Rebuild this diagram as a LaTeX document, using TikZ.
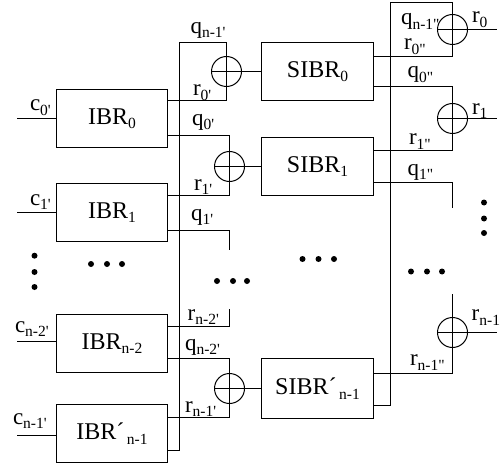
\documentclass[tikz,border=0pt]{standalone}
\usepackage{fontspec}
\setmainfont{Liberation Serif}
\newcommand{\lowt}[1]{\raisebox{-4.5pt}{\fontsize{15.5}{16}\selectfont #1}}
\newcommand{\pri}{\textquotesingle}
\newcommand{\dpri}{\textquotedbl}
\newcommand{\labl}[5]{\node[lab] (#1) at (#2,#3) {#4\lowt{#5}};}
\newcommand{\dotc}[2]{\fill (#1,#2) circle (3);}
\tikzset{
    lab/.style={anchor=base west, inner sep=0pt, outer sep=0pt, font=\fontsize{23}{24}\selectfont},
    ibrbox/.style={draw, line width=1.3pt, minimum width=111pt, minimum height=58pt, inner sep=0pt, outer sep=0pt, font=\fontsize{24}{25}\selectfont},
    sibrbox/.style={ibrbox, minimum width=112pt},
    xorc/.style={draw, circle, line width=1pt, minimum size=30pt, inner sep=0pt, outer sep=0pt}
}
\begin{document}
\begin{tikzpicture}[x=1pt, y=-1pt, line width=1.3pt]
            \useasboundingbox (0,0) rectangle (503,468);
            % first stage
            \node[ibrbox] (ibr0) at (112,118.5) {IBR\lowt{0}};
            \node[ibrbox] (ibr1) at (112,212.5) {IBR\lowt{1}};
            \node[ibrbox] (ibrm) at (112,343.5) {IBR\lowt{n-2}};
            \node[ibrbox] (ibrl) at (112,433.5) {IBR´\lowt{\,n-1}};
            % second stage
            \node[sibrbox] (sibr0) at (317.5,71.5) {SIBR\lowt{0}};
            \node[sibrbox] (sibr1) at (317.5,166.5) {SIBR\lowt{1}};
            \node[sibrbox, minimum height=60pt] (sibrl) at (317.5,388.5) {SIBR´\lowt{\,n-1}};
            % adders
            \node[xorc] (xa0) at (226.5,71.5) {};
            \node[xorc] (xa1) at (229.5,166.5) {};
            \node[xorc] (xal) at (229.5,388.5) {};
            \node[xorc] (xb0) at (452.5,29.5) {};
            \node[xorc] (xb1) at (452.5,118.5) {};
            \node[xorc] (xbl) at (452.5,332.5) {};
            % free ends
            \coordinate (c0) at (17,118.5);
            \coordinate (c1) at (17,212.5);
            \coordinate (cm) at (17,341.5);
            \coordinate (cl) at (17,435.5);
            \coordinate (r0) at (497,29.5);
            \coordinate (r1) at (497,118.5);
            \coordinate (rl) at (497,332.5);
            \coordinate (bustopa) at (179.5,42.5);
            \coordinate (busenda) at (179.5,450.5);
            \coordinate (bustopb) at (390.5,2.5);
            \coordinate (busendb) at (390.5,405.5);
            \coordinate (qa1) at (229.5,250);
            \coordinate (ram) at (229.5,309);
            \coordinate (qb1) at (452.5,208);
            \coordinate (rbl) at (452.5,294);
            % inputs
            \draw (c0) -- (ibr0.west);
            \draw (c1) -- (ibr1.west);
            \draw (cm) -- (cm -| ibrm.west);
            \draw (cl) -- (cl -| ibrl.west);
            % first stage wires
            \draw (ibr0.east |- 0,100.5) -| (xa0.center) |- (bustopa) -- (busenda) -- (busenda -| ibrl.east);
            \draw (ibr0.east |- 0,135.5) -| (xa1.center) |- (ibr1.east |- 0,195.5);
            \draw (ibr1.east |- 0,230.5) -| (qa1);
            \draw (ram) |- (ibrm.east |- 0,326.5);
            \draw (ibrm.east |- 0,358.5) -| (xal.center) |- (ibrl.east |- 0,417.5);
            \draw (xa0.west) -- (sibr0.west);
            \draw (xa1.west) -- (sibr1.west);
            \draw (xal.west) -- (sibrl.west);
            % second stage wires
            \draw (sibr0.east |- 0,56.5) -| (xb0.center) |- (bustopb) -- (busendb) -- (busendb -| sibrl.east);
            \draw (sibr0.east |- 0,86.5) -| (xb1.center) |- (sibr1.east |- 0,150.5);
            \draw (sibr1.east |- 0,182.5) -| (qb1);
            \draw (rbl) |- (sibrl.east |- 0,373.5);
            \draw (xb0.west) -- (r0);
            \draw (xb1.west) -- (r1);
            \draw (xbl.west) -- (rl);
            % labels, first stage
            \labl{lc0}{30}{110.7}{c}{0\pri}
            \labl{lc1}{30}{205}{c}{1\pri}
            \labl{lcm}{15}{332.3}{c}{n-2\pri}
            \labl{lcl}{13}{424}{c}{n-1\pri}
            \labl{lqa}{190.5}{33.5}{q}{n-1\pri}
            \labl{lra0}{193}{96}{r}{0\pri}
            \labl{lqa0}{192}{125}{q}{0\pri}
            \labl{lra1}{194}{190}{r}{1\pri}
            \labl{lqa1}{191}{220}{q}{1\pri}
            \labl{lram}{187.7}{320}{r}{n-2\pri}
            \labl{lqam}{185}{350}{q}{n-2\pri}
            \labl{lral}{185}{412.3}{r}{n-1\pri}
            % labels, second stage
            \labl{lqb}{401}{25}{q}{n-1\dpri}
            \labl{lrb0}{404}{50}{r}{0\dpri}
            \labl{lqb0}{407.7}{78}{q}{0\dpri}
            \labl{lrb1}{409}{145}{r}{1\dpri}
            \labl{lqb1}{407.7}{175}{q}{1\dpri}
            \labl{lrbl}{410}{365.7}{r}{n-1\dpri}
            \labl{lr0}{472}{22.7}{r}{0}
            \labl{lr1}{472}{114}{r}{1}
            \labl{lrl}{471.7}{320.7}{r}{n-1}
            % dots
            \dotc{34.5}{255.7}
            \dotc{34.5}{272}
            \dotc{34.5}{287}
            \dotc{91}{264}
            \dotc{107}{264}
            \dotc{122}{264}
            \dotc{217}{281}
            \dotc{233}{281}
            \dotc{247}{281}
            \dotc{302.5}{259}
            \dotc{318.5}{259}
            \dotc{334}{259}
            \dotc{411}{271.5}
            \dotc{427}{271.5}
            \dotc{442}{271.5}
            \dotc{484}{202.5}
            \dotc{484}{218.5}
            \dotc{484}{233}
        \end{tikzpicture}
\end{document}
